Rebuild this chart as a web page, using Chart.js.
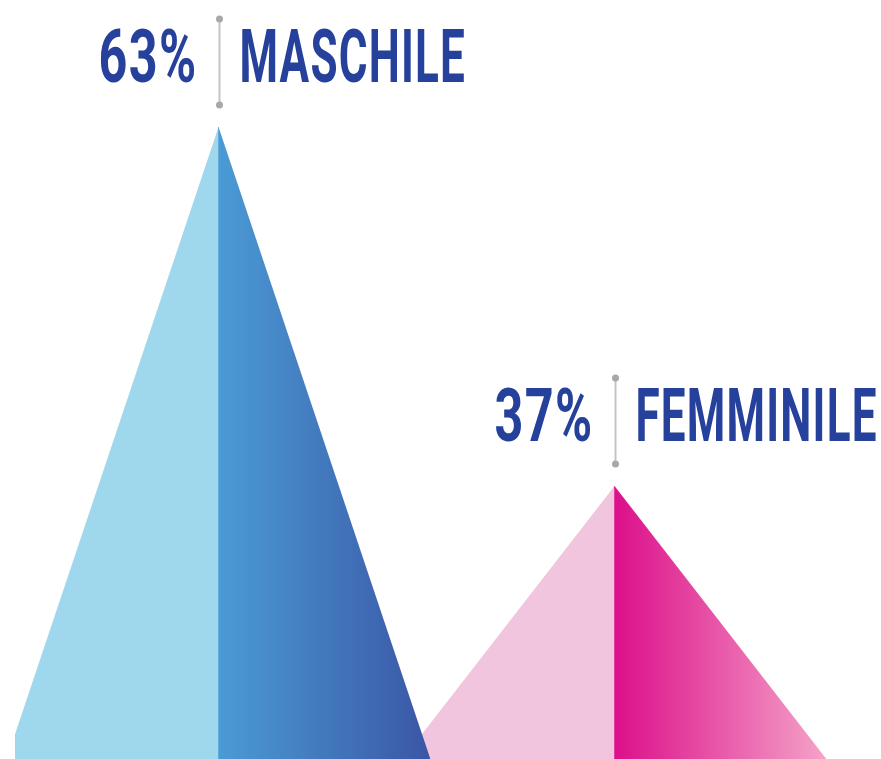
<!DOCTYPE html>
<html>
<head>
<meta charset="utf-8">
<script src="https://cdn.jsdelivr.net/npm/chart.js@4.4.1/dist/chart.umd.min.js"></script>
<style>
  html, body { margin: 0; padding: 0; background: #ffffff; }
  #wrap { width: 881px; height: 759px; position: relative; }
</style>
</head>
<body>
<div id="wrap"><canvas id="c"></canvas></div>
<script>
// ---- data ----
const categories = ['MASCHILE', 'FEMMINILE'];
const percentages = [63, 37];
const valueLabels = ['63%', '37%'];

// ---- styles ----
const lightColors = ['#9fd8ec', '#f1c5dd'];
const gradStart = ['#4b9bd5', '#dc0f8a'];
const gradEnd = ['#3a56a5', '#f4a3c8'];
const textColor = '#26419b';
const HALF_BASE = 0.535;   // half width of each triangle base, in category units
const SEAM = 0.002;        // small overlap so halves meet without a gap

const Y_MIN = 17.24, Y_MAX = 72.2;

function gradFill(i) {
  return function (ctx) {
    const chart = ctx.chart;
    const area = chart.chartArea;
    if (!area) return gradStart[i];
    const xs = chart.scales.x;
    const x0 = xs.getPixelForValue(i);
    const x1 = xs.getPixelForValue(i + HALF_BASE);
    const g = chart.ctx.createLinearGradient(x0, 0, x1, 0);
    g.addColorStop(0, gradStart[i]);
    g.addColorStop(1, gradEnd[i]);
    return g;
  };
}

const datasets = [];
categories.forEach((cat, i) => {
  datasets.push({
    label: cat + ' L',
    data: [{ x: i - HALF_BASE, y: Y_MIN }, { x: i, y: percentages[i] }],
    backgroundColor: lightColors[i],
    borderWidth: 0, pointRadius: 0, showLine: true, fill: 'start', tension: 0
  });
  datasets.push({
    label: cat + ' R',
    data: [{ x: i - SEAM, y: percentages[i] }, { x: i, y: percentages[i] }, { x: i + HALF_BASE, y: Y_MIN }],
    backgroundColor: gradFill(i),
    borderWidth: 0, pointRadius: 0, showLine: true, fill: 'start', tension: 0
  });
});

const labelPlugin = {
  id: 'peakLabels',
  afterDatasetsDraw(chart) {
    const ctx = chart.ctx;
    const xs = chart.scales.x, ys = chart.scales.y;
    categories.forEach((cat, i) => {
      const ax = Math.round(xs.getPixelForValue(i)) + 0.5;
      const ay = ys.getPixelForValue(percentages[i]);
      // connector
      ctx.save();
      ctx.strokeStyle = '#c4c4c4';
      ctx.lineWidth = 2;
      ctx.beginPath();
      ctx.moveTo(ax, ay - 108);
      ctx.lineTo(ax, ay - 22);
      ctx.stroke();
      ctx.fillStyle = '#a8a8a8';
      [ay - 108, ay - 22].forEach(y => {
        ctx.beginPath(); ctx.arc(ax, y, 3.5, 0, Math.PI * 2); ctx.fill();
      });
      // texts
      const base = ay - 45;
      const sx = 0.595;
      ctx.fillStyle = textColor;
      ctx.font = 'bold 74px Roboto';
      ctx.textBaseline = 'alphabetic';
      ctx.letterSpacing = '2px';
      // value (right aligned)
      ctx.save();
      ctx.translate(ax - 22, base);
      ctx.scale(0.68, 1);
      ctx.textAlign = 'right';
      ctx.fillText(valueLabels[i], 0, 0);
      ctx.restore();
      // category (left aligned)
      ctx.save();
      ctx.translate(ax + 20, base);
      ctx.scale(sx, 1);
      ctx.textAlign = 'left';
      ctx.fillText(cat, 0, 0);
      ctx.restore();
      ctx.restore();
    });
  }
};

new Chart(document.getElementById('c'), {
  type: 'scatter',
  data: { datasets },
  options: {
    responsive: true,
    maintainAspectRatio: false,
    animation: false,
    layout: { padding: { left: 15, right: 0, top: 0, bottom: 0 } },
    plugins: { legend: { display: false }, tooltip: { enabled: false } },
    scales: {
      x: { type: 'linear', min: -0.514, max: 1.673, display: false },
      y: { type: 'linear', min: Y_MIN, max: Y_MAX, display: false }
    }
  },
  plugins: [labelPlugin]
});
</script>
</body>
</html>
